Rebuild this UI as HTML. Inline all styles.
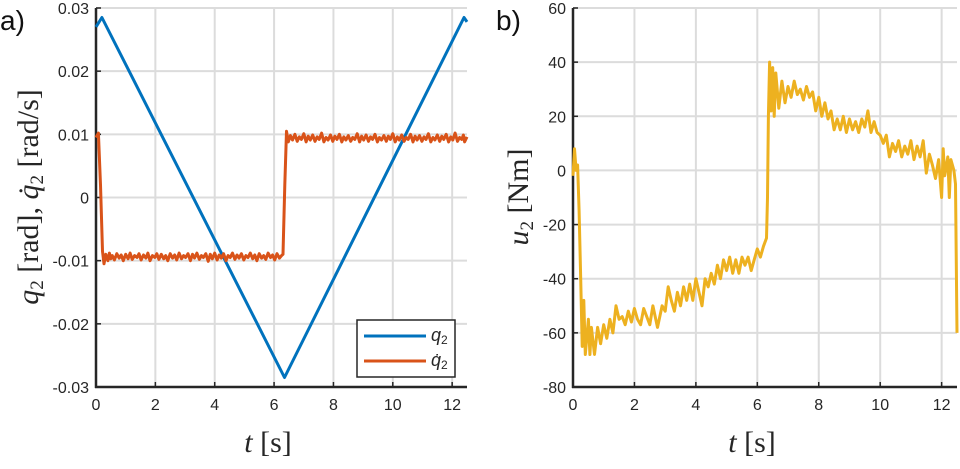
<!DOCTYPE html>
<html><head><meta charset="utf-8"><style>
body{margin:0;background:#fff;}
svg text{font-family:"Liberation Sans",sans-serif;}
.tk{font-size:16px;fill:#262626;}
.ser{font-family:"Liberation Serif",serif;font-size:30px;fill:#262626;}
</style></head><body>
<svg id="c" width="960" height="464" viewBox="0 0 960 464" xmlns="http://www.w3.org/2000/svg"></svg>
<script>
const xTicks=[0,2,4,6,8,10,12];
const yTicksA=[-0.03,-0.02,-0.01,0,0.01,0.02,0.03];
const yTickLabelsA=['-0.03','-0.02','-0.01','0','0.01','0.02','0.03'];
const yTicksB=[-80,-60,-40,-20,0,20,40,60];
const qT=[0,0.2,6.35,12.4,12.5];
const qV=[0.027,0.0285,-0.0285,0.0285,0.0278];
const qdT=[0,0.08,0.15,0.22,0.27,0.33,0.4,0.45,0.5,0.55,0.62,0.7,0.78,0.85,0.92,1.0,1.08,1.15,1.22,1.3,1.38,1.45,1.52,1.6,1.68,1.75,1.82,1.9,1.98,2.05,2.12,2.2,2.28,2.35,2.42,2.5,2.58,2.65,2.72,2.8,2.88,2.95,3.02,3.1,3.18,3.25,3.32,3.4,3.48,3.55,3.62,3.7,3.78,3.85,3.92,4.0,4.08,4.15,4.22,4.3,4.38,4.45,4.52,4.6,4.68,4.75,4.82,4.9,4.98,5.05,5.12,5.2,5.28,5.35,5.42,5.5,5.58,5.65,5.72,5.8,5.88,5.95,6.02,6.1,6.18,6.25,6.3,6.36,6.42,6.48,6.55,6.62,6.7,6.78,6.85,6.92,7.0,7.08,7.15,7.22,7.3,7.38,7.45,7.52,7.6,7.68,7.75,7.82,7.9,7.98,8.05,8.12,8.2,8.28,8.35,8.42,8.5,8.58,8.65,8.72,8.8,8.88,8.95,9.02,9.1,9.18,9.25,9.32,9.4,9.48,9.55,9.62,9.7,9.78,9.85,9.92,10.0,10.08,10.15,10.22,10.3,10.38,10.45,10.52,10.6,10.68,10.75,10.82,10.9,10.98,11.05,11.12,11.2,11.28,11.35,11.42,11.5,11.58,11.65,11.72,11.8,11.88,11.95,12.02,12.1,12.18,12.25,12.32,12.38,12.42,12.5];
const qdV=[0.0095,0.0102,0.002,-0.0085,-0.0105,-0.0090,-0.0100,-0.0088,-0.0097,-0.0092,-0.0099,-0.0089,-0.0096,-0.0091,-0.0100,-0.0090,-0.0097,-0.0088,-0.0098,-0.0092,-0.0095,-0.0089,-0.0099,-0.0091,-0.0096,-0.0088,-0.0100,-0.0092,-0.0095,-0.0089,-0.0098,-0.0090,-0.0097,-0.0092,-0.0100,-0.0089,-0.0096,-0.0091,-0.0099,-0.0088,-0.0097,-0.0092,-0.0095,-0.0089,-0.0100,-0.0090,-0.0096,-0.0088,-0.0098,-0.0092,-0.0095,-0.0089,-0.0101,-0.0090,-0.0097,-0.0088,-0.0099,-0.0091,-0.0096,-0.0089,-0.0100,-0.0092,-0.0095,-0.0088,-0.0098,-0.0091,-0.0096,-0.0089,-0.0099,-0.0092,-0.0095,-0.0088,-0.0097,-0.0091,-0.0100,-0.0089,-0.0096,-0.0092,-0.0098,-0.0088,-0.0095,-0.0091,-0.0099,-0.0089,-0.0096,-0.0092,-0.0090,0.002,0.0105,0.0088,0.0098,0.0091,0.0100,0.0089,0.0096,0.0092,0.0101,0.0088,0.0097,0.0091,0.0099,0.0089,0.0096,0.0092,0.0102,0.0088,0.0095,0.0091,0.0099,0.0089,0.0097,0.0092,0.0100,0.0088,0.0096,0.0091,0.0098,0.0089,0.0095,0.0092,0.0101,0.0088,0.0097,0.0091,0.0099,0.0089,0.0096,0.0092,0.0100,0.0088,0.0095,0.0091,0.0098,0.0089,0.0097,0.0092,0.0101,0.0088,0.0096,0.0091,0.0099,0.0089,0.0095,0.0092,0.0100,0.0088,0.0097,0.0091,0.0098,0.0089,0.0096,0.0092,0.0101,0.0088,0.0095,0.0091,0.0099,0.0089,0.0097,0.0092,0.0100,0.0088,0.0096,0.0091,0.0102,0.0089,0.0095,0.0092,0.0099,0.0088,0.0096,0.0085,-0.0102];
const uT=[0,0.05,0.1,0.15,0.2,0.25,0.3,0.35,0.4,0.5,0.55,0.6,0.7,0.8,0.9,1.0,1.1,1.2,1.3,1.4,1.5,1.6,1.7,1.8,1.9,2.0,2.1,2.2,2.3,2.5,2.6,2.75,2.9,3.0,3.1,3.2,3.3,3.4,3.5,3.6,3.7,3.8,3.9,4.0,4.1,4.2,4.3,4.4,4.5,4.6,4.7,4.8,4.9,5.0,5.1,5.2,5.3,5.4,5.5,5.6,5.7,5.8,5.9,6.0,6.1,6.2,6.3,6.33,6.36,6.4,6.45,6.5,6.55,6.6,6.7,6.8,6.9,7.0,7.1,7.2,7.3,7.4,7.5,7.6,7.7,7.8,7.9,8.0,8.1,8.2,8.3,8.4,8.5,8.6,8.7,8.8,8.9,9.0,9.1,9.2,9.3,9.4,9.5,9.6,9.7,9.8,9.9,10.0,10.1,10.2,10.3,10.4,10.5,10.6,10.7,10.8,10.9,11.0,11.1,11.2,11.3,11.4,11.5,11.6,11.7,11.8,11.9,12.0,12.05,12.1,12.2,12.25,12.3,12.4,12.45,12.5];
const uV=[-2,8,0,2,-15,-40,-65,-48,-68,-55,-68,-58,-68,-58,-64,-57,-62,-55,-60,-50,-55,-54,-57,-52,-56,-51,-55,-57,-51,-57,-50,-58,-50,-52,-43,-48,-52,-45,-50,-43,-48,-42,-48,-40,-45,-50,-40,-43,-38,-42,-35,-40,-33,-37,-32,-38,-33,-38,-32,-35,-32,-37,-33,-29,-32,-28,-25,-10,20,40,22,38,20,36,23,33,25,31,27,33,28,30,26,31,27,29,22,27,20,25,19,22,15,19,15,20,14,19,15,18,14,19,16,22,14,18,14,13,10,13,5,10,7,11,5,9,6,11,4,9,5,11,-1,6,2,-3,4,-10,8,-2,5,-10,4,0,-5,-60];

const svg=document.getElementById('c');
const NS='http://www.w3.org/2000/svg';
function mk(tag,attrs,parent){const e=document.createElementNS(NS,tag);for(const k in attrs)e.setAttribute(k,attrs[k]);(parent||svg).appendChild(e);return e;}

function panel(name,x0,x1,y0,y1,yMin,yMax,yTicks,yLabels){
  const g=mk('g',{});
  
  
  const sx=t=>x0+(t-0)/(12.5-0)*(x1-x0);
  const sy=v=>y1-(v-yMin)/(yMax-yMin)*(y1-y0);
  xTicks.forEach(t=>{
    const l=mk('line',{x1:sx(t),x2:sx(t),y1:y0,y2:y1,stroke:'#dcdcdc','stroke-width':2},g);
    
    
    mk('line',{x1:sx(t),x2:sx(t),y1:y1,y2:y1-5,stroke:'#262626','stroke-width':1.5},g);
    const tx=mk('text',{x:sx(t),y:y1+23,'text-anchor':'middle',class:'tk'},g);
    tx.textContent=t;
    
    
  });
  yTicks.forEach((v,i)=>{
    const l=mk('line',{x1:x0,x2:x1,y1:sy(v),y2:sy(v),stroke:'#dcdcdc','stroke-width':2},g);
    
    
    mk('line',{x1:x0,x2:x0+5,y1:sy(v),y2:sy(v),stroke:'#262626','stroke-width':1.5},g);
    const tx=mk('text',{x:x0-7,y:sy(v)+6,'text-anchor':'end',class:'tk'},g);
    tx.textContent=yLabels?yLabels[i]:v;
    
    
  });
  mk('line',{x1:x0,x2:x0,y1:y0,y2:y1+1,stroke:'#262626','stroke-width':2.5},g);
  mk('line',{x1:x0-1,x2:x1,y1:y1,y2:y1,stroke:'#262626','stroke-width':2.5},g);
  return {g,sx,sy};
}
function line(p,ts,vs,color,name){
  const d=ts.map((t,i)=>(i?'L':'M')+p.sx(t).toFixed(1)+','+p.sy(vs[i]).toFixed(1)).join('');
  const e=mk('path',{d:d,fill:'none',stroke:color,'stroke-width':3,'stroke-linejoin':'round'},p.g);
  
  
}
const A=panel('panel-a',96,467,8,387,-0.03,0.03,yTicksA,yTickLabelsA);
line(A,qT,qV,'#0072bd','series-q2');
line(A,qdT,qdV,'#d95319','series-q2-dot');
const B=panel('panel-b',573,957,8,387,-80,60,yTicksB,null);
line(B,uT,uV,'#edb120','series-u2');

const lg=mk('g',{});


mk('rect',{x:357,y:320,width:98,height:57,fill:'#fff',stroke:'#262626','stroke-width':1.5},lg);
mk('line',{x1:364,x2:426,y1:336,y2:336,stroke:'#0072bd','stroke-width':3},lg);
mk('line',{x1:364,x2:426,y1:361,y2:361,stroke:'#d95319','stroke-width':3},lg);
const l1=mk('text',{x:431,y:341,'font-size':18,'font-style':'italic','font-family':'Liberation Serif,serif',fill:'#262626'},lg);
l1.innerHTML='q<tspan font-size="12" dy="3" font-style="normal">2</tspan>';


const l2=mk('text',{x:431,y:366,'font-size':18,'font-style':'italic','font-family':'Liberation Serif,serif',fill:'#262626'},lg);
l2.innerHTML='q̇<tspan font-size="12" dy="3" font-style="normal">2</tspan>';



function txt(x,y,html,name,attrs){const t=mk('text',Object.assign({x:x,y:y},attrs||{}));t.innerHTML=html;return t;}
txt(0,30,'a)','panel-a-label',{'font-size':28,fill:'#111'});
txt(496,30,'b)','panel-b-label',{'font-size':28,fill:'#111'});
txt(268,452,'<tspan font-style="italic">t</tspan> [s]','x-axis-title-a',{class:'ser','text-anchor':'middle'});
txt(752,452,'<tspan font-style="italic">t</tspan> [s]','x-axis-title-b',{class:'ser','text-anchor':'middle'});
txt(0,0,'<tspan font-style="italic">q</tspan><tspan font-size="19" dy="5">2</tspan><tspan dy="-5"> [rad], </tspan><tspan font-style="italic">q̇</tspan><tspan font-size="19" dy="5">2</tspan><tspan dy="-5"> [rad/s]</tspan>','y-axis-title-a',{class:'ser','text-anchor':'middle',transform:'translate(38,197) rotate(-90)'});
txt(0,0,'<tspan font-style="italic">u</tspan><tspan font-size="19" dy="5">2</tspan><tspan dy="-5"> [Nm]</tspan>','y-axis-title-b',{class:'ser','text-anchor':'middle',transform:'translate(528,197) rotate(-90)'});
</script>
</body></html>
